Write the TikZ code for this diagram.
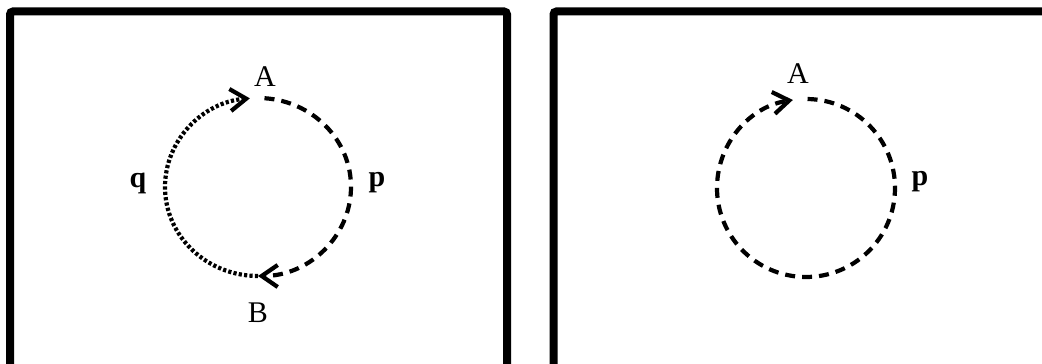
\documentclass[tikz,border=0pt]{standalone}
\usepackage{fontspec}
\setmainfont{Liberation Serif}
\usetikzlibrary{
    arrows.meta,
    calc,
    positioning
}
\tikzset{
    panel/.style={line width=8pt, rounded corners=3pt},
    pathp/.style={line width=4.2pt, dash pattern=on 10pt off 7pt},
    pathq/.style={line width=4.2pt, dash pattern=on 3.2pt off 2.2pt},
    flowarrow/.style={-{Straight Barb[length=16pt, width=22pt, line width=4.2pt]}},
    point/.style={font=\fontsize{30}{34}\selectfont, inner sep=0pt},
    route/.style={font=\fontsize{30}{34}\selectfont\bfseries, inner sep=0pt}
}

\begin{document}
\begin{tikzpicture}[x=1pt, y=1pt]
    \useasboundingbox (0,0) rectangle (1042,364);
    \fill[white] (0,0) rectangle (1042,364);
    \clip (0,0) rectangle (1042,364);
    % the two panels
    \draw[panel] (10,-20) rectangle (507,352.5);
    \draw[panel] (553.5,-20) rectangle (1080,352.5);

    % left panel: two routes from A to B
    \coordinate (cl) at (258,177);
    \coordinate (topl) at ($(cl)+(86:93 and 89)$);
    \coordinate (botl) at ($(cl)+(-90:93 and 89)$);
    \draw[pathp, flowarrow] (topl) arc[start angle=86, end angle=-90, x radius=93, y radius=89];
    \draw[pathq, flowarrow] (botl) arc[start angle=-90, end angle=-265, x radius=93, y radius=89];
    \node[point] (al) at (265,287) {A};
    \node[point] (bl) at (258,51) {B};
    \node[route] (ql) at (138,181) {q};
    \node[route] (pl) at (377,181) {p};

    % right panel: one closed route
    \coordinate (cr) at (806,176);
    \coordinate (topr) at ($(cr)+(89:89)$);
    \draw[pathp, flowarrow] (topr) arc[start angle=89, end angle=-261.5, radius=89];
    \node[point] (ar) at (798,290) {A};
    \node[route] (pr) at (920,182) {p};
\end{tikzpicture}
\end{document}
